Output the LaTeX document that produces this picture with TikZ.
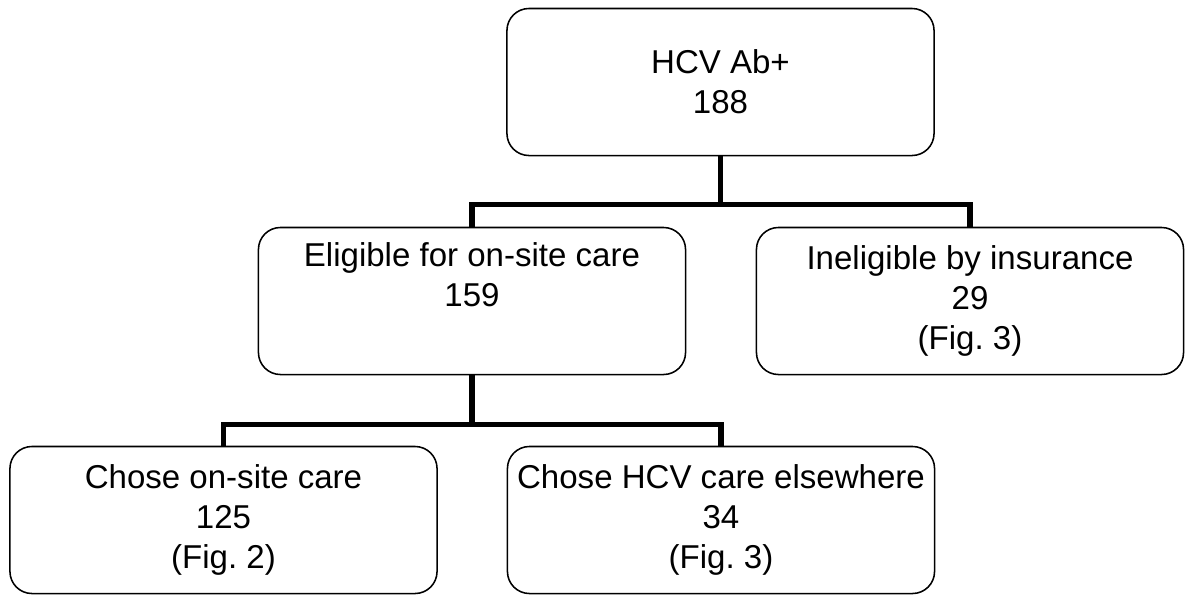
\documentclass[tikz,border=0pt]{standalone}
\usepackage{fontspec}
\setmainfont{Liberation Sans}
\frenchspacing
\begin{document}
\begin{tikzpicture}[x=0.025cm, y=-0.025cm,
    box/.style={draw, line width=1.1pt, rounded corners=0.55cm,
      minimum width=10.675cm, minimum height=3.675cm, align=center,
      font=\fontsize{23.5}{28.5}\selectfont},
    link/.style={line width=3.6pt}]
  \useasboundingbox (0,0) rectangle (1186,595);

  % Top box
  \node[box] (hcv) at (720.5,82) {HCV Ab+\\188};

  % Second level
  \node[box] (elig) at (472,301) {Eligible for on-site care\\159\\\strut};
  \node[box] (inel) at (970,301) {Ineligible by insurance\\29\\(Fig. 3)};

  % Third level
  \node[box] (onsite) at (223.5,520) {Chose on-site care\\125\\(Fig. 2)};
  \node[box] (other) at (721,520) {Chose HCV care elsewhere\\34\\(Fig. 3)};

  % Connectors
  \draw[link] (hcv.south) -- ++(0,48) -| (elig.north);
  \draw[link] (hcv.south) -- ++(0,48) -| (inel.north);
  \draw[link] (elig.south) -- ++(0,49) -| (onsite.north);
  \draw[link] (elig.south) -- ++(0,49) -| (other.north);
\end{tikzpicture}
\end{document}
